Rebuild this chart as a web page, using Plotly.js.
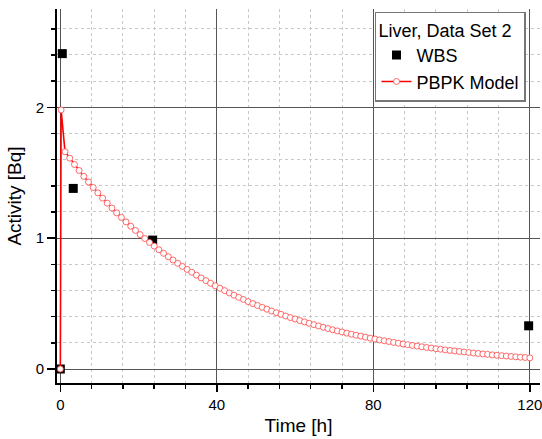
<!DOCTYPE html>
<html>
<head>
<meta charset="utf-8">
<script src="https://cdn.plot.ly/plotly-3.0.1.min.js"></script>
<style>html,body{margin:0;padding:0;background:#fff;}#chart{width:542px;height:439px;}</style>
</head>
<body>
<div id="chart"></div>
<script>
// WBS measurements
const wbsTime = [0, 0.5, 3.3, 23.6, 119.7];
const wbsActivity = [0, 2.41, 1.38, 0.985, 0.33];

// PBPK model curve
const modelTime = [0, 0.2,
  1.2, 2.4, 3.6, 4.8, 6, 7.2, 8.4, 9.6, 10.8, 12,
  13.2, 14.4, 15.6, 16.8, 18, 19.2, 20.4, 21.6, 22.8, 24,
  25.2, 26.4, 27.6, 28.8, 30, 31.2, 32.4, 33.6, 34.8, 36,
  37.2, 38.4, 39.6, 40.8, 42, 43.2, 44.4, 45.6, 46.8, 48,
  49.2, 50.4, 51.6, 52.8, 54, 55.2, 56.4, 57.6, 58.8, 60,
  61.2, 62.4, 63.6, 64.8, 66, 67.2, 68.4, 69.6, 70.8, 72,
  73.2, 74.4, 75.6, 76.8, 78, 79.2, 80.4, 81.6, 82.8, 84,
  85.2, 86.4, 87.6, 88.8, 90, 91.2, 92.4, 93.6, 94.8, 96,
  97.2, 98.4, 99.6, 100.8, 102, 103.2, 104.4, 105.6, 106.8, 108,
  109.2, 110.4, 111.6, 112.8, 114, 115.2, 116.4, 117.6, 118.8, 120];
const modelActivity = [0, 1.98,
  1.660, 1.611, 1.563, 1.517, 1.472, 1.429, 1.387, 1.346, 1.306, 1.267,
  1.230, 1.193, 1.158, 1.124, 1.091, 1.059, 1.027, 0.997, 0.967, 0.939,
  0.911, 0.884, 0.858, 0.833, 0.808, 0.784, 0.761, 0.739, 0.717, 0.696,
  0.675, 0.655, 0.636, 0.617, 0.599, 0.581, 0.564, 0.547, 0.531, 0.515,
  0.500, 0.485, 0.471, 0.457, 0.443, 0.430, 0.418, 0.405, 0.393, 0.382,
  0.370, 0.360, 0.349, 0.339, 0.329, 0.319, 0.309, 0.300, 0.291, 0.283,
  0.274, 0.266, 0.258, 0.251, 0.243, 0.236, 0.229, 0.222, 0.216, 0.210,
  0.203, 0.197, 0.191, 0.186, 0.180, 0.175, 0.170, 0.165, 0.160, 0.155,
  0.151, 0.146, 0.142, 0.138, 0.134, 0.130, 0.126, 0.122, 0.119, 0.115,
  0.112, 0.108, 0.105, 0.102, 0.099, 0.096, 0.093, 0.090, 0.088, 0.085];

const xTickVals = [0, 40, 80, 120];
const yTickVals = [0, 1, 2];

const font = 'Liberation Sans, Arial, sans-serif';

const traces = [
  {
    x: wbsTime, y: wbsActivity, name: 'WBS', type: 'scatter', mode: 'markers',
    marker: {symbol: 'square', size: 9, color: '#000'}
  },
  {
    x: modelTime, y: modelActivity, name: 'PBPK Model', type: 'scatter', mode: 'lines+markers',
    line: {color: 'rgb(255,0,0)', width: 1.6},
    marker: {symbol: 'circle', size: 6, color: '#fff', line: {color: 'rgba(255,70,70,0.8)', width: 1}}
  }
];

const layout = {
  width: 542, height: 439,
  margin: {l: 57, r: 2, t: 9, b: 56},
  paper_bgcolor: '#fff', plot_bgcolor: '#fff',
  font: {family: font, color: '#000', size: 15},
  showlegend: true,
  legend: {
    x: 0.971, xanchor: 'right', y: 0.992, yanchor: 'top',
    bgcolor: '#fff', bordercolor: '#777', borderwidth: 1.5,
    font: {family: font, size: 18, color: '#000'},
    title: {text: 'Liver, Data Set 2', font: {family: font, size: 18, color: '#000'}},
    tracegroupgap: 0
  },
  xaxis: {
    range: [-0.85, 122.6],
    tickvals: xTickVals, ticktext: xTickVals.map(String),
    ticks: 'outside', ticklen: 7, tickwidth: 1.5, tickcolor: '#000',
    ticklabeloverflow: 'allow',
    showline: true, linecolor: '#000', linewidth: 2,
    showgrid: true, gridcolor: '#555', gridwidth: 1,
    zeroline: false,
    tickfont: {family: font, size: 15},
    minor: {dtick: 8, tick0: 0, ticks: 'outside', ticklen: 4, tickcolor: '#000', tickwidth: 1.5,
            showgrid: true, gridcolor: '#c8c8c8', griddash: 'dot', gridwidth: 1},
    title: {text: 'Time [h]', font: {family: font, size: 19}, standoff: 7}
  },
  yaxis: {
    range: [-0.107, 2.751],
    tickvals: yTickVals, ticktext: yTickVals.map(String),
    ticks: 'outside', ticklen: 8, tickwidth: 1.5, tickcolor: '#000',
    ticklabeloverflow: 'allow',
    showline: true, linecolor: '#000', linewidth: 2,
    showgrid: true, gridcolor: '#555', gridwidth: 1,
    zeroline: false,
    tickfont: {family: font, size: 15},
    minor: {dtick: 0.2, tick0: 0, ticks: 'outside', ticklen: 4, tickcolor: '#000', tickwidth: 1.5,
            showgrid: true, gridcolor: '#c8c8c8', griddash: 'dot', gridwidth: 1},
    title: {text: 'Activity [Bq]', font: {family: font, size: 19}, standoff: 9}
  }
};

Plotly.newPlot('chart', traces, layout, {displayModeBar: false, staticPlot: true});
</script>
</body>
</html>
